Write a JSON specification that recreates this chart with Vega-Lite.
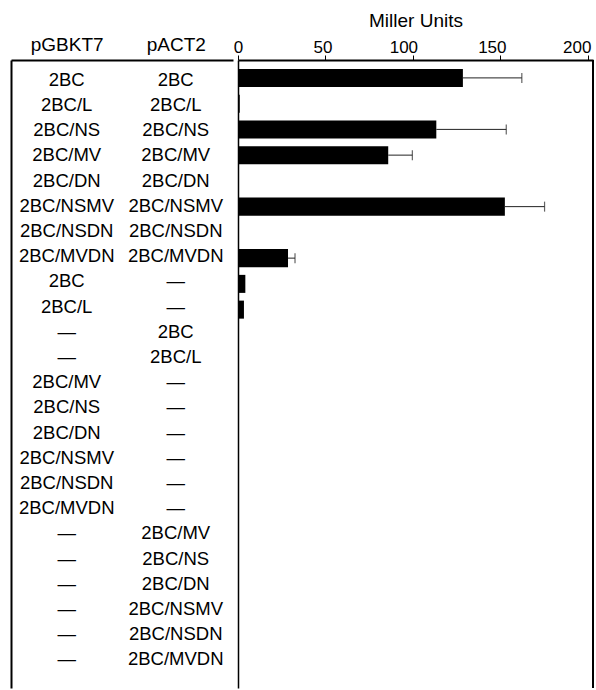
{
  "$schema": "https://vega.github.io/schema/vega-lite/v6.json",
  "padding": {"left": 11, "top": 11, "right": 0, "bottom": 0},
  "spacing": 0,
  "data": {"values": [
    {"id": 1, "pGBKT7": "2BC", "pACT2": "2BC", "mean": 128.6, "hi": 162.3},
    {"id": 2, "pGBKT7": "2BC/L", "pACT2": "2BC/L", "mean": 1, "hi": null},
    {"id": 3, "pGBKT7": "2BC/NS", "pACT2": "2BC/NS", "mean": 113.4, "hi": 153.4},
    {"id": 4, "pGBKT7": "2BC/MV", "pACT2": "2BC/MV", "mean": 85.9, "hi": 99.7},
    {"id": 5, "pGBKT7": "2BC/DN", "pACT2": "2BC/DN", "mean": 0, "hi": null},
    {"id": 6, "pGBKT7": "2BC/NSMV", "pACT2": "2BC/NSMV", "mean": 152.6, "hi": 175.3},
    {"id": 7, "pGBKT7": "2BC/NSDN", "pACT2": "2BC/NSDN", "mean": 0, "hi": null},
    {"id": 8, "pGBKT7": "2BC/MVDN", "pACT2": "2BC/MVDN", "mean": 28.6, "hi": 32.6},
    {"id": 9, "pGBKT7": "2BC", "pACT2": "—", "mean": 4.2, "hi": null},
    {"id": 10, "pGBKT7": "2BC/L", "pACT2": "—", "mean": 3.4, "hi": null},
    {"id": 11, "pGBKT7": "—", "pACT2": "2BC", "mean": 0, "hi": null},
    {"id": 12, "pGBKT7": "—", "pACT2": "2BC/L", "mean": 0, "hi": null},
    {"id": 13, "pGBKT7": "2BC/MV", "pACT2": "—", "mean": 0, "hi": null},
    {"id": 14, "pGBKT7": "2BC/NS", "pACT2": "—", "mean": 0, "hi": null},
    {"id": 15, "pGBKT7": "2BC/DN", "pACT2": "—", "mean": 0, "hi": null},
    {"id": 16, "pGBKT7": "2BC/NSMV", "pACT2": "—", "mean": 0, "hi": null},
    {"id": 17, "pGBKT7": "2BC/NSDN", "pACT2": "—", "mean": 0, "hi": null},
    {"id": 18, "pGBKT7": "2BC/MVDN", "pACT2": "—", "mean": 0, "hi": null},
    {"id": 19, "pGBKT7": "—", "pACT2": "2BC/MV", "mean": 0, "hi": null},
    {"id": 20, "pGBKT7": "—", "pACT2": "2BC/NS", "mean": 0, "hi": null},
    {"id": 21, "pGBKT7": "—", "pACT2": "2BC/DN", "mean": 0, "hi": null},
    {"id": 22, "pGBKT7": "—", "pACT2": "2BC/NSMV", "mean": 0, "hi": null},
    {"id": 23, "pGBKT7": "—", "pACT2": "2BC/NSDN", "mean": 0, "hi": null},
    {"id": 24, "pGBKT7": "—", "pACT2": "2BC/MVDN", "mean": 0, "hi": null}
  ]},
  "hconcat": [
    {
      "width": 222,
      "height": 628,
      "transform": [{"fold": ["pGBKT7", "pACT2"], "as": ["plasmid", "construct"]}],
      "mark": {"type": "text", "fontSize": 18.5, "color": "black", "baseline": "middle"},
      "encoding": {
        "x": {"field": "plasmid", "type": "nominal",
              "scale": {"type": "point", "domain": ["pGBKT7", "pACT2"], "padding": 0.518, "align": 0.493},
              "axis": {"orient": "top", "title": null, "ticks": false, "tickSize": 0, "labelPadding": 6,
                       "labelFontSize": 19, "domainWidth": 2, "labelAngle": 0}},
        "y": {"field": "id", "type": "ordinal",
              "scale": {"type": "point", "padding": 0.96, "align": 0.41},
              "axis": {"orient": "left", "title": null, "labels": false, "ticks": false, "domainWidth": 2}},
        "text": {"field": "construct"}
      }
    },
    {
      "width": 355,
      "height": 628,
      "layer": [
        {
          "mark": {"type": "bar", "color": "black"},
          "encoding": {
            "x": {"field": "mean", "type": "quantitative",
                  "scale": {"domain": [0, 203], "nice": false, "zero": true},
                  "axis": {"orient": "top", "title": "Miller Units", "values": [0, 50, 100, 150, 200],
                           "grid": false, "tickSize": 5, "tickWidth": 1, "labelPadding": -1,
                           "labelFontSize": 17, "titleFontSize": 19, "titleFontWeight": "normal",
                           "titlePadding": 8, "domainWidth": 2, "labelFlush": false,
                           "labelOffset": {"condition": [
                             {"test": "datum.value == 50", "value": -3},
                             {"test": "datum.value == 100", "value": -9.5},
                             {"test": "datum.value == 150", "value": -8.5},
                             {"test": "datum.value == 200", "value": -11}
                           ], "value": 0}}},
            "y": {"field": "id", "type": "ordinal",
                  "scale": {"type": "band", "paddingInner": 0.3, "paddingOuter": 0.345, "align": 0.5},
                  "axis": {"orient": "left", "title": null, "labels": false, "ticks": false, "domainWidth": 1.5}}
          }
        },
        {
          "transform": [{"filter": "datum.hi != null"}],
          "mark": {"type": "rule", "color": "#222", "strokeWidth": 1},
          "encoding": {
            "x": {"field": "mean", "type": "quantitative"},
            "x2": {"field": "hi"},
            "y": {"field": "id", "type": "ordinal"}
          }
        },
        {
          "transform": [{"filter": "datum.hi != null"}],
          "mark": {"type": "tick", "color": "#222", "thickness": 1.2, "size": 10},
          "encoding": {
            "x": {"field": "hi", "type": "quantitative"},
            "y": {"field": "id", "type": "ordinal"}
          }
        },
        {
          "mark": {"type": "rule", "color": "black", "strokeWidth": 2},
          "encoding": {"x": {"datum": 203}}
        }
      ]
    }
  ],
  "config": {
    "font": "Liberation Sans",
    "view": {"stroke": null},
    "axis": {"domainColor": "black", "tickColor": "black", "labelColor": "black", "titleColor": "black", "grid": false}
  }
}
